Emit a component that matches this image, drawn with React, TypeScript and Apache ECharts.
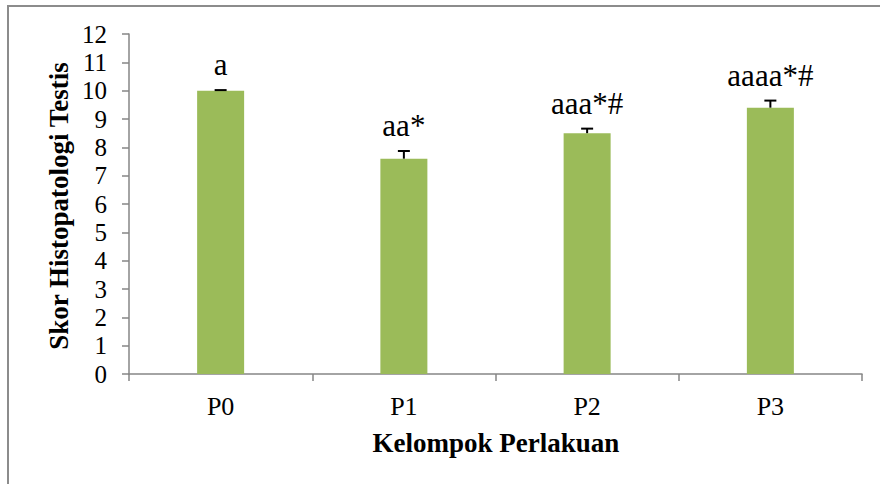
import React, { useEffect, useRef } from "react";
import * as echarts from "echarts";

const categories = ["P0", "P1", "P2", "P3"];
const scores = [10.0, 7.6, 8.5, 9.4];
const errors = [0.02, 0.27, 0.16, 0.25];
const marks = ["a", "aa*", "aaa*#", "aaaa*#"];
const yTicks = [0, 1, 2, 3, 4, 5, 6, 7, 8, 9, 10, 11, 12];

const SERIF = "'Liberation Serif', 'Times New Roman', serif";
const AXIS = "#868686";

export default function App() {
  const ref = useRef<HTMLDivElement>(null);
  useEffect(() => {
    if (!ref.current) return;
    const chart = echarts.init(ref.current, undefined, { renderer: "svg" });
    chart.setOption({
      animation: false,
      backgroundColor: "#ffffff",
      grid: { left: 129, right: 18, top: 34, bottom: 110 },
      graphic: [
        {
          type: "rect",
          shape: { x: 8, y: 6, width: 900, height: 520 },
          style: { fill: "none", stroke: "#8c8c8c", lineWidth: 2 },
          silent: true,
          z: -1,
        },
        {
          type: "text",
          x: 59,
          y: 206,
          rotation: Math.PI / 2,
          style: {
            text: "Skor Histopatologi Testis",
            font: `bold 27px ${SERIF}`,
            fill: "#000",
            textAlign: "center",
            textVerticalAlign: "middle",
          },
        },
        {
          type: "text",
          x: 496,
          y: 443,
          style: {
            text: "Kelompok Perlakuan",
            font: `bold 27px ${SERIF}`,
            fill: "#000",
            textAlign: "center",
            textVerticalAlign: "middle",
          },
        },
      ],
      xAxis: {
        type: "category",
        data: categories,
        axisLine: { lineStyle: { color: AXIS, width: 1.5 } },
        axisTick: { show: true, length: 7, lineStyle: { color: AXIS, width: 1.5 } },
        axisLabel: { color: "#000", fontFamily: SERIF, fontSize: 26, margin: 19 },
      },
      yAxis: {
        type: "value",
        min: yTicks[0],
        max: yTicks[yTicks.length - 1],
        interval: 1,
        splitLine: { show: false },
        axisLine: { show: true, lineStyle: { color: AXIS, width: 1.5 } },
        axisTick: { show: true, length: 7, lineStyle: { color: AXIS, width: 1.5 } },
        axisLabel: { color: "#000", fontFamily: SERIF, fontSize: 25, margin: 22 },
      },
      series: [
        {
          type: "bar",
          data: scores,
          barWidth: 47,
          itemStyle: { color: "#9bbb59" },
        },
        {
          type: "custom",
          data: scores.map((v, i) => [i, v, errors[i]]),
          z: 5,
          renderItem: (params: any, api: any) => {
            const i = api.value(0);
            const v = api.value(1);
            const e = api.value(2);
            const top = api.coord([i, v]);
            const cap = api.coord([i, v + e]);
            const x = top[0];
            return {
              type: "group",
              children: [
                {
                  type: "line",
                  shape: { x1: x, y1: top[1], x2: x, y2: cap[1] },
                  style: { stroke: "#000", lineWidth: 2 },
                },
                {
                  type: "line",
                  shape: { x1: x - 6, y1: cap[1], x2: x + 6, y2: cap[1] },
                  style: { stroke: "#000", lineWidth: 2 },
                },
                {
                  type: "text",
                  x: x,
                  y: cap[1] - 10,
                  style: {
                    text: marks[params.dataIndex],
                    font: `31px ${SERIF}`,
                    fill: "#000",
                    textAlign: "center",
                    textVerticalAlign: "bottom",
                  },
                },
              ],
            };
          },
        },
      ],
    });
    return () => chart.dispose();
  }, []);
  return <div ref={ref} style={{ width: 880, height: 484, position: "absolute", left: 0, top: 0 }} />;
}
